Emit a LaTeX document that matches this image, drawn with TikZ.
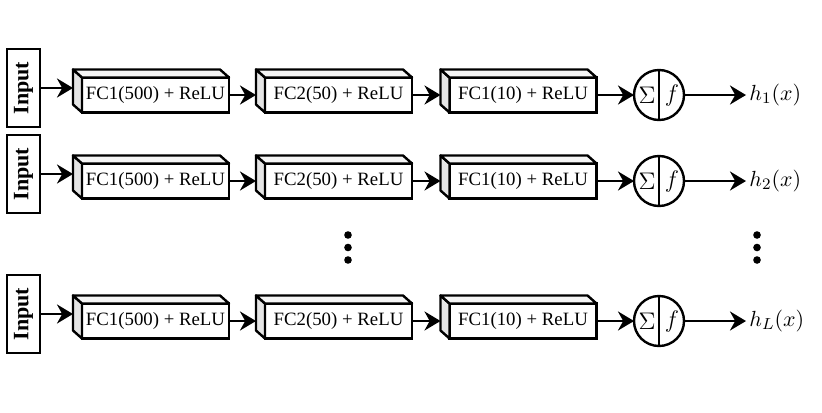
\documentclass[tikz,border=0pt]{standalone}
\usepackage{fontspec}
\setmainfont{Liberation Serif}
\usetikzlibrary{arrows.meta, calc, positioning}

\tikzset{
  inputbox/.style={draw, line width=1.2pt, minimum width=16.5pt, minimum height=39pt,
    inner sep=0pt, outer sep=0pt, font=\fontsize{11}{12}\selectfont\bfseries},
  fcbox/.style={draw, line width=1.2pt, fill=white, minimum width=73.5pt,
    minimum height=17.5pt, inner sep=0pt, outer sep=0pt, font=\fontsize{9.4}{10}\selectfont},
  sideface/.style={fill=gray!20, draw, line width=1.2pt, line join=round},
  topface/.style={fill=gray!8, draw, line width=1.2pt, line join=round},
  sumnode/.style={draw, circle, line width=1.2pt, minimum size=25pt, inner sep=0pt, outer sep=0pt},
  flow/.style={-{Stealth[length=8pt,width=9.5pt]}, line width=1.2pt},
  outlabel/.style={anchor=west, inner sep=1.5pt, font=\fontsize{11}{12}\selectfont},
}

\begin{document}
\begin{tikzpicture}[x=0.5pt, y=-0.5pt]
  \useasboundingbox (0,0) rectangle (822,412);

  \foreach \r/\y/\k in {1/95/1, 2/181/2, 3/321/L} {
    % input block
    \node[inputbox] (in\r) at (23.5,\y-7) {\rotatebox{90}{Input}};

    % three dense layers, drawn as boxes with depth
    \foreach \c/\x/\txt in {1/155.5/FC1(500) + ReLU, 2/338.5/FC2(50) + ReLU, 3/523/FC1(10) + ReLU} {
      \node[fcbox] (fc\r\c) at (\x,\y) {\txt};
      \draw[sideface] (fc\r\c.north west) -- ++(-9,-8) -- ($(fc\r\c.south west)+(-9,-8)$)
        -- (fc\r\c.south west) -- cycle;
      \draw[topface] (fc\r\c.north west) -- ++(-9,-8) -- ($(fc\r\c.north east)+(-9,-8)$)
        -- (fc\r\c.north east) -- cycle;
      \coordinate (bk\r\c) at ($(fc\r\c.west)+(-9,0)$);
    }

    % summation and activation
    \node[sumnode] (s\r) at (659,\y) {};
    \draw[line width=1.2pt] (s\r.north) -- (s\r.south);
    \node[font=\fontsize{12.5}{12}\selectfont] (sg\r) at ($(s\r.center)+(-12,0)$) {$\Sigma$};
    \node[font=\fontsize{12.5}{12}\selectfont] (af\r) at ($(s\r.center)+(13,0)$) {$f$};

    % output
    \node[outlabel] (h\r) at (746,\y) {$h_{\k}(x)$};

    % connectors
    \draw[flow] (in\r.east) -- (in\r.east -| bk\r1);
    \draw[flow] (fc\r1.east) -- (bk\r2);
    \draw[flow] (fc\r2.east) -- (bk\r3);
    \draw[flow] (fc\r3.east) -- (s\r.west);
    \draw[flow] (s\r.east) -- (h\r.west);
  }

  % vertical ellipsis
  \foreach \yy in {235,247.5,260} {
    \fill (348,\yy) circle (1.9pt);
    \fill (757,\yy) circle (1.9pt);
  }
\end{tikzpicture}
\end{document}
